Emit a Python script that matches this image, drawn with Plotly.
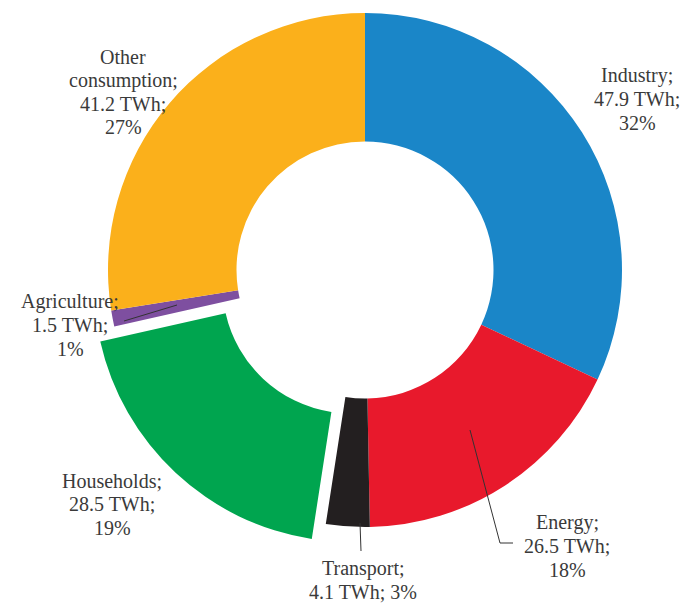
import plotly.graph_objects as go

# ---- data ----
categories = ["Industry", "Energy", "Transport", "Households", "Agriculture", "Other consumption"]
values_twh = [47.9, 26.5, 4.1, 28.5, 1.5, 41.2]
percents = [32, 18, 3, 19, 1, 27]
colors = ["#1a86c8", "#e8192c", "#231f20", "#00a54f", "#7e4fa0", "#fbb01b"]
pulled = "Households"

W, H = 694, 605


def px(x):
    return x / W


def py(y):
    return 1 - y / H


# geometry of the donut (pixels)
CX, CY, R = 365, 270, 257
PULL_DX, PULL_DY = -14, 15

def dom(dx=0, dy=0):
    return dict(x=[px(CX - R + dx), px(CX + R + dx)],
                y=[py(CY + R + dy), py(CY - R + dy)])

base_colors = [c if n != pulled else "rgba(0,0,0,0)" for n, c in zip(categories, colors)]
pull_colors = [c if n == pulled else "rgba(0,0,0,0)" for n, c in zip(categories, colors)]

fig = go.Figure()
for cols, d in [(base_colors, dom()), (pull_colors, dom(PULL_DX, PULL_DY))]:
    fig.add_trace(go.Pie(
        labels=categories, values=values_twh, sort=False, direction="clockwise",
        rotation=0, hole=0.5, marker=dict(colors=cols, line=dict(width=0)),
        textinfo="none", hoverinfo="skip", showlegend=False, domain=d,
    ))

# ---- labels ----
label_lines = {
    "Industry": ["Industry;", "47.9 TWh;", "32%"],
    "Energy": ["Energy;", "26.5 TWh;", "18%"],
    "Transport": ["Transport;", "4.1 TWh; 3%"],
    "Households": ["Households;", "28.5 TWh;", "19%"],
    "Agriculture": ["Agriculture;", "1.5 TWh;", "1%"],
    "Other consumption": ["Other", "consumption;", "41.2 TWh;", "27%"],
}

label_pos = {
    "Industry": (637, 99),
    "Energy": (567, 546),
    "Transport": (363, 580),
    "Households": (112, 504),
    "Agriculture": (70, 325),
    "Other consumption": (123, 92),
}
STEP = 23.5
FONT = "Liberation Serif, Times New Roman, Times, DejaVu Serif, serif"
annotations = []
for name, lines in label_lines.items():
    cx, cy = label_pos[name]
    n = len(lines)
    for i, t in enumerate(lines):
        y = cy + (i - (n - 1) / 2) * STEP
        annotations.append(dict(
            x=px(cx), y=py(y), xref="paper", yref="paper", text=t, showarrow=False,
            xanchor="center", yanchor="middle",
            font=dict(family=FONT, size=20, color="#3a3a3a"),
        ))

def path(points):
    return "M " + " L ".join(f"{px(x)},{py(y)}" for x, y in points)

leaders = [
    [(470, 430), (500, 543), (513, 543)],
    [(360, 523), (361, 551)],
    [(124, 321), (177, 305)],
]
shapes = [dict(type="path", xref="paper", yref="paper", path=path(p),
               line=dict(color="#333333", width=1)) for p in leaders]

fig.update_layout(
    width=W, height=H, margin=dict(l=0, r=0, t=0, b=0),
    paper_bgcolor="white", plot_bgcolor="white",
    font=dict(family=FONT),
    annotations=annotations, shapes=shapes,
)
fig.write_html("out.html", config={"displayModeBar": False},
               post_script="document.body.style.margin='0';document.body.style.padding='0';")
